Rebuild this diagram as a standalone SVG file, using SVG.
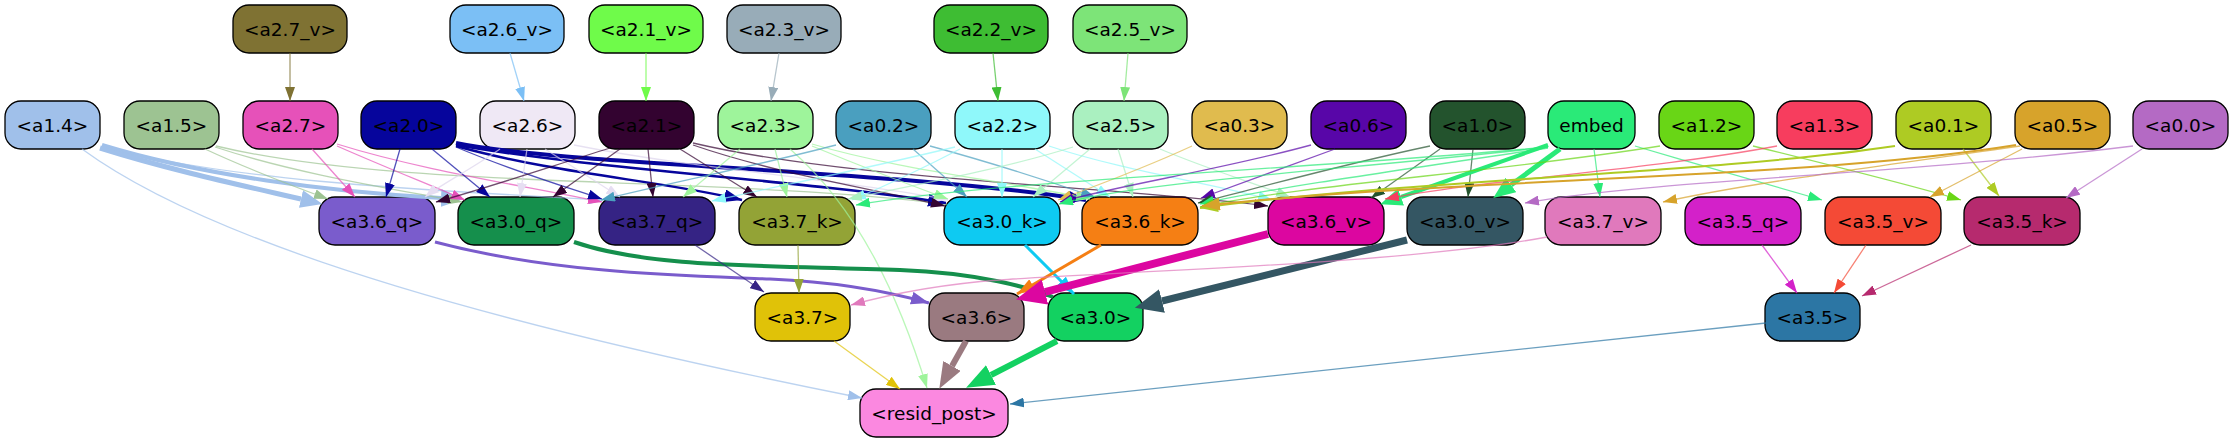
<svg xmlns="http://www.w3.org/2000/svg" width="2233" height="443" viewBox="0 0 2233 443">
<style>
.n rect{stroke:#000;stroke-width:1.3}
.n text{font-family:"DejaVu Sans",sans-serif;font-size:18.5px;text-anchor:middle;fill:#000}
#edges path{fill:none;stroke-width:1.3;stroke-opacity:.7}
#edges path.w{stroke-opacity:1}
.k27v{stroke:#7f7233}.k26v{stroke:#7bbff5}.k21v{stroke:#6ffb4a}.k23v{stroke:#98acb8}.k22v{stroke:#3ebd33}.k25v{stroke:#7de478}
.k14{stroke:#a0c0ea}.k15{stroke:#9dc392}.k27{stroke:#e651b9}.k20{stroke:#06059c}.k26{stroke:#ddd4ec}.k21{stroke:#330330}
.k23{stroke:#9ef49b}.k02{stroke:#4a9fbf}.k22{stroke:#8ff8fa}.k25{stroke:#aaf0c0}.k03{stroke:#e0bb4e}.k06{stroke:#5806a8}
.k10{stroke:#23532d}.kem{stroke:#2aea78}.k12{stroke:#69d616}.k13{stroke:#f73d5e}.k01{stroke:#aecb23}.k05{stroke:#d7a32b}.k00{stroke:#b46ac4}
.q36{stroke:#7a5ccc}.q30{stroke:#158f4c}.q37{stroke:#352384}.k37k{stroke:#93a336}.k30k{stroke:#0ecaf2}.k36k{stroke:#f57f14}
.v36{stroke:#dc06a0}.v30{stroke:#345663}.v37{stroke:#e079bc}.q35{stroke:#d321c9}.v35{stroke:#f44a36}.k35k{stroke:#b62a6e}
.r37{stroke:#e0c208}.r36{stroke:#9a7a80}.r30{stroke:#13d161}.r35{stroke:#2c76a4}
</style>
<defs>
<path id="ah" d="M0,0L14,5L0,10z"/>
<marker id="m27v" viewBox="0 0 14 10" refX="14" refY="5" markerWidth="14" markerHeight="10" markerUnits="userSpaceOnUse" orient="auto"><use href="#ah" fill="#7f7233"/></marker>
<marker id="m26v" viewBox="0 0 14 10" refX="14" refY="5" markerWidth="14" markerHeight="10" markerUnits="userSpaceOnUse" orient="auto"><use href="#ah" fill="#7bbff5"/></marker>
<marker id="m21v" viewBox="0 0 14 10" refX="14" refY="5" markerWidth="14" markerHeight="10" markerUnits="userSpaceOnUse" orient="auto"><use href="#ah" fill="#6ffb4a"/></marker>
<marker id="m23v" viewBox="0 0 14 10" refX="14" refY="5" markerWidth="14" markerHeight="10" markerUnits="userSpaceOnUse" orient="auto"><use href="#ah" fill="#98acb8"/></marker>
<marker id="m22v" viewBox="0 0 14 10" refX="14" refY="5" markerWidth="14" markerHeight="10" markerUnits="userSpaceOnUse" orient="auto"><use href="#ah" fill="#3ebd33"/></marker>
<marker id="m25v" viewBox="0 0 14 10" refX="14" refY="5" markerWidth="14" markerHeight="10" markerUnits="userSpaceOnUse" orient="auto"><use href="#ah" fill="#7de478"/></marker>
<marker id="m14" viewBox="0 0 14 10" refX="14" refY="5" markerWidth="14" markerHeight="10" markerUnits="userSpaceOnUse" orient="auto"><use href="#ah" fill="#a0c0ea"/></marker>
<marker id="B14" viewBox="0 0 22 18" refX="0" refY="9" markerWidth="22" markerHeight="18" markerUnits="userSpaceOnUse" orient="auto"><path d="M0,0L22,9L0,18z" fill="#a0c0ea"/></marker>
<marker id="m15" viewBox="0 0 14 10" refX="14" refY="5" markerWidth="14" markerHeight="10" markerUnits="userSpaceOnUse" orient="auto"><use href="#ah" fill="#9dc392"/></marker>
<marker id="m27" viewBox="0 0 14 10" refX="14" refY="5" markerWidth="14" markerHeight="10" markerUnits="userSpaceOnUse" orient="auto"><use href="#ah" fill="#e651b9"/></marker>
<marker id="m20" viewBox="0 0 14 10" refX="14" refY="5" markerWidth="14" markerHeight="10" markerUnits="userSpaceOnUse" orient="auto"><use href="#ah" fill="#06059c"/></marker>
<marker id="M20" viewBox="0 0 18 13" refX="18" refY="6.5" markerWidth="18" markerHeight="13" markerUnits="userSpaceOnUse" orient="auto"><path d="M0,0L18,6.5L0,13z" fill="#06059c"/></marker>
<marker id="m26" viewBox="0 0 14 10" refX="14" refY="5" markerWidth="14" markerHeight="10" markerUnits="userSpaceOnUse" orient="auto"><use href="#ah" fill="#e6def2"/></marker>
<marker id="m21" viewBox="0 0 14 10" refX="14" refY="5" markerWidth="14" markerHeight="10" markerUnits="userSpaceOnUse" orient="auto"><use href="#ah" fill="#330330"/></marker>
<marker id="m23" viewBox="0 0 14 10" refX="14" refY="5" markerWidth="14" markerHeight="10" markerUnits="userSpaceOnUse" orient="auto"><use href="#ah" fill="#9ef49b"/></marker>
<marker id="m02" viewBox="0 0 14 10" refX="14" refY="5" markerWidth="14" markerHeight="10" markerUnits="userSpaceOnUse" orient="auto"><use href="#ah" fill="#4a9fbf"/></marker>
<marker id="m22" viewBox="0 0 14 10" refX="14" refY="5" markerWidth="14" markerHeight="10" markerUnits="userSpaceOnUse" orient="auto"><use href="#ah" fill="#8ff8fa"/></marker>
<marker id="m25" viewBox="0 0 14 10" refX="14" refY="5" markerWidth="14" markerHeight="10" markerUnits="userSpaceOnUse" orient="auto"><use href="#ah" fill="#aaf0c0"/></marker>
<marker id="m03" viewBox="0 0 14 10" refX="14" refY="5" markerWidth="14" markerHeight="10" markerUnits="userSpaceOnUse" orient="auto"><use href="#ah" fill="#e0bb4e"/></marker>
<marker id="m06" viewBox="0 0 14 10" refX="14" refY="5" markerWidth="14" markerHeight="10" markerUnits="userSpaceOnUse" orient="auto"><use href="#ah" fill="#5806a8"/></marker>
<marker id="m10" viewBox="0 0 14 10" refX="14" refY="5" markerWidth="14" markerHeight="10" markerUnits="userSpaceOnUse" orient="auto"><use href="#ah" fill="#23532d"/></marker>
<marker id="mem" viewBox="0 0 14 10" refX="14" refY="5" markerWidth="14" markerHeight="10" markerUnits="userSpaceOnUse" orient="auto"><use href="#ah" fill="#2aea78"/></marker>
<marker id="Bem" viewBox="0 0 22 18" refX="0" refY="9" markerWidth="22" markerHeight="18" markerUnits="userSpaceOnUse" orient="auto"><path d="M0,0L22,9L0,18z" fill="#2aea78"/></marker>
<marker id="m12" viewBox="0 0 14 10" refX="14" refY="5" markerWidth="14" markerHeight="10" markerUnits="userSpaceOnUse" orient="auto"><use href="#ah" fill="#69d616"/></marker>
<marker id="m13" viewBox="0 0 14 10" refX="14" refY="5" markerWidth="14" markerHeight="10" markerUnits="userSpaceOnUse" orient="auto"><use href="#ah" fill="#f73d5e"/></marker>
<marker id="m01" viewBox="0 0 14 10" refX="14" refY="5" markerWidth="14" markerHeight="10" markerUnits="userSpaceOnUse" orient="auto"><use href="#ah" fill="#aecb23"/></marker>
<marker id="M01" viewBox="0 0 18 13" refX="18" refY="6.5" markerWidth="18" markerHeight="13" markerUnits="userSpaceOnUse" orient="auto"><path d="M0,0L18,6.5L0,13z" fill="#aecb23"/></marker>
<marker id="m05" viewBox="0 0 14 10" refX="14" refY="5" markerWidth="14" markerHeight="10" markerUnits="userSpaceOnUse" orient="auto"><use href="#ah" fill="#d7a32b"/></marker>
<marker id="M05" viewBox="0 0 18 13" refX="18" refY="6.5" markerWidth="18" markerHeight="13" markerUnits="userSpaceOnUse" orient="auto"><path d="M0,0L18,6.5L0,13z" fill="#d7a32b"/></marker>
<marker id="m00" viewBox="0 0 14 10" refX="14" refY="5" markerWidth="14" markerHeight="10" markerUnits="userSpaceOnUse" orient="auto"><use href="#ah" fill="#b46ac4"/></marker>
<marker id="M36q" viewBox="0 0 18 13" refX="18" refY="6.5" markerWidth="18" markerHeight="13" markerUnits="userSpaceOnUse" orient="auto"><path d="M0,0L18,6.5L0,13z" fill="#7a5ccc"/></marker>
<marker id="M30q" viewBox="0 0 18 13" refX="18" refY="6.5" markerWidth="18" markerHeight="13" markerUnits="userSpaceOnUse" orient="auto"><path d="M0,0L18,6.5L0,13z" fill="#158f4c"/></marker>
<marker id="m37q" viewBox="0 0 14 10" refX="14" refY="5" markerWidth="14" markerHeight="10" markerUnits="userSpaceOnUse" orient="auto"><use href="#ah" fill="#352384"/></marker>
<marker id="m37k" viewBox="0 0 14 10" refX="14" refY="5" markerWidth="14" markerHeight="10" markerUnits="userSpaceOnUse" orient="auto"><use href="#ah" fill="#93a336"/></marker>
<marker id="M30k" viewBox="0 0 18 13" refX="18" refY="6.5" markerWidth="18" markerHeight="13" markerUnits="userSpaceOnUse" orient="auto"><path d="M0,0L18,6.5L0,13z" fill="#0ecaf2"/></marker>
<marker id="M36k" viewBox="0 0 18 13" refX="18" refY="6.5" markerWidth="18" markerHeight="13" markerUnits="userSpaceOnUse" orient="auto"><path d="M0,0L18,6.5L0,13z" fill="#f57f14"/></marker>
<marker id="B36v" viewBox="0 0 30 26" refX="0" refY="13" markerWidth="30" markerHeight="26" markerUnits="userSpaceOnUse" orient="auto"><path d="M0,0L30,13L0,26z" fill="#dc06a0"/></marker>
<marker id="B30v" viewBox="0 0 28 24" refX="0" refY="12" markerWidth="28" markerHeight="24" markerUnits="userSpaceOnUse" orient="auto"><path d="M0,0L28,12L0,24z" fill="#345663"/></marker>
<marker id="m37v" viewBox="0 0 14 10" refX="14" refY="5" markerWidth="14" markerHeight="10" markerUnits="userSpaceOnUse" orient="auto"><use href="#ah" fill="#e079bc"/></marker>
<marker id="m35q" viewBox="0 0 14 10" refX="14" refY="5" markerWidth="14" markerHeight="10" markerUnits="userSpaceOnUse" orient="auto"><use href="#ah" fill="#d321c9"/></marker>
<marker id="m35v" viewBox="0 0 14 10" refX="14" refY="5" markerWidth="14" markerHeight="10" markerUnits="userSpaceOnUse" orient="auto"><use href="#ah" fill="#f44a36"/></marker>
<marker id="m35k" viewBox="0 0 14 10" refX="14" refY="5" markerWidth="14" markerHeight="10" markerUnits="userSpaceOnUse" orient="auto"><use href="#ah" fill="#b62a6e"/></marker>
<marker id="m37" viewBox="0 0 14 10" refX="14" refY="5" markerWidth="14" markerHeight="10" markerUnits="userSpaceOnUse" orient="auto"><use href="#ah" fill="#e0c208"/></marker>
<marker id="B36" viewBox="0 0 26 20" refX="0" refY="10" markerWidth="26" markerHeight="20" markerUnits="userSpaceOnUse" orient="auto"><path d="M0,0L26,10L0,20z" fill="#9a7a80"/></marker>
<marker id="B30" viewBox="0 0 28 22" refX="0" refY="11" markerWidth="28" markerHeight="22" markerUnits="userSpaceOnUse" orient="auto"><path d="M0,0L28,11L0,22z" fill="#13d161"/></marker>
<marker id="m35" viewBox="0 0 14 10" refX="14" refY="5" markerWidth="14" markerHeight="10" markerUnits="userSpaceOnUse" orient="auto"><use href="#ah" fill="#2c76a4"/></marker>
</defs>
<rect width="2233" height="443" fill="#fff"/>
<g id="nodes">
<g id="n-a2_7_v" class="n"><rect x="233" y="5" width="114" height="48" rx="16" fill="#7f7233"/><text x="290" y="35.5">&lt;a2.7_v&gt;</text></g>
<g id="n-a2_6_v" class="n"><rect x="450" y="5" width="114" height="48" rx="16" fill="#7bbff5"/><text x="507" y="35.5">&lt;a2.6_v&gt;</text></g>
<g id="n-a2_1_v" class="n"><rect x="589" y="5" width="114" height="48" rx="16" fill="#6ffb4a"/><text x="646" y="35.5">&lt;a2.1_v&gt;</text></g>
<g id="n-a2_3_v" class="n"><rect x="727" y="5" width="114" height="48" rx="16" fill="#98acb8"/><text x="784" y="35.5">&lt;a2.3_v&gt;</text></g>
<g id="n-a2_2_v" class="n"><rect x="934" y="5" width="114" height="48" rx="16" fill="#3ebd33"/><text x="991" y="35.5">&lt;a2.2_v&gt;</text></g>
<g id="n-a2_5_v" class="n"><rect x="1073" y="5" width="114" height="48" rx="16" fill="#7de478"/><text x="1130" y="35.5">&lt;a2.5_v&gt;</text></g>
<g id="n-a1_4" class="n"><rect x="5" y="101" width="95" height="48" rx="16" fill="#a0c0ea"/><text x="52.5" y="131.5">&lt;a1.4&gt;</text></g>
<g id="n-a1_5" class="n"><rect x="124" y="101" width="95" height="48" rx="16" fill="#9dc392"/><text x="171.5" y="131.5">&lt;a1.5&gt;</text></g>
<g id="n-a2_7" class="n"><rect x="243" y="101" width="95" height="48" rx="16" fill="#e651b9"/><text x="290.5" y="131.5">&lt;a2.7&gt;</text></g>
<g id="n-a2_0" class="n"><rect x="361" y="101" width="95" height="48" rx="16" fill="#06059c"/><text x="408.5" y="131.5">&lt;a2.0&gt;</text></g>
<g id="n-a2_6" class="n"><rect x="480" y="101" width="95" height="48" rx="16" fill="#efe8f5"/><text x="527.5" y="131.5">&lt;a2.6&gt;</text></g>
<g id="n-a2_1" class="n"><rect x="599" y="101" width="95" height="48" rx="16" fill="#330330"/><text x="646.5" y="131.5">&lt;a2.1&gt;</text></g>
<g id="n-a2_3" class="n"><rect x="718" y="101" width="95" height="48" rx="16" fill="#9ef49b"/><text x="765.5" y="131.5">&lt;a2.3&gt;</text></g>
<g id="n-a0_2" class="n"><rect x="836" y="101" width="95" height="48" rx="16" fill="#4a9fbf"/><text x="883.5" y="131.5">&lt;a0.2&gt;</text></g>
<g id="n-a2_2" class="n"><rect x="955" y="101" width="95" height="48" rx="16" fill="#8ff8fa"/><text x="1002.5" y="131.5">&lt;a2.2&gt;</text></g>
<g id="n-a2_5" class="n"><rect x="1073" y="101" width="95" height="48" rx="16" fill="#aaf0c0"/><text x="1120.5" y="131.5">&lt;a2.5&gt;</text></g>
<g id="n-a0_3" class="n"><rect x="1192" y="101" width="95" height="48" rx="16" fill="#e0bb4e"/><text x="1239.5" y="131.5">&lt;a0.3&gt;</text></g>
<g id="n-a0_6" class="n"><rect x="1311" y="101" width="95" height="48" rx="16" fill="#5806a8"/><text x="1358.5" y="131.5">&lt;a0.6&gt;</text></g>
<g id="n-a1_0" class="n"><rect x="1430" y="101" width="95" height="48" rx="16" fill="#23532d"/><text x="1477.5" y="131.5">&lt;a1.0&gt;</text></g>
<g id="n-embed" class="n"><rect x="1548" y="101" width="87" height="48" rx="16" fill="#2aea78"/><text x="1591.5" y="131.5">embed</text></g>
<g id="n-a1_2" class="n"><rect x="1659" y="101" width="95" height="48" rx="16" fill="#69d616"/><text x="1706.5" y="131.5">&lt;a1.2&gt;</text></g>
<g id="n-a1_3" class="n"><rect x="1777" y="101" width="95" height="48" rx="16" fill="#f73d5e"/><text x="1824.5" y="131.5">&lt;a1.3&gt;</text></g>
<g id="n-a0_1" class="n"><rect x="1896" y="101" width="95" height="48" rx="16" fill="#aecb23"/><text x="1943.5" y="131.5">&lt;a0.1&gt;</text></g>
<g id="n-a0_5" class="n"><rect x="2015" y="101" width="95" height="48" rx="16" fill="#d7a32b"/><text x="2062.5" y="131.5">&lt;a0.5&gt;</text></g>
<g id="n-a0_0" class="n"><rect x="2133" y="101" width="95" height="48" rx="16" fill="#b46ac4"/><text x="2180.5" y="131.5">&lt;a0.0&gt;</text></g>
<g id="n-a3_6_q" class="n"><rect x="319" y="197" width="116" height="48" rx="16" fill="#7a5ccc"/><text x="377" y="227.5">&lt;a3.6_q&gt;</text></g>
<g id="n-a3_0_q" class="n"><rect x="458" y="197" width="116" height="48" rx="16" fill="#158f4c"/><text x="516" y="227.5">&lt;a3.0_q&gt;</text></g>
<g id="n-a3_7_q" class="n"><rect x="599" y="197" width="116" height="48" rx="16" fill="#352384"/><text x="657" y="227.5">&lt;a3.7_q&gt;</text></g>
<g id="n-a3_7_k" class="n"><rect x="739" y="197" width="116" height="48" rx="16" fill="#93a336"/><text x="797" y="227.5">&lt;a3.7_k&gt;</text></g>
<g id="n-a3_0_k" class="n"><rect x="944" y="197" width="116" height="48" rx="16" fill="#0ecaf2"/><text x="1002" y="227.5">&lt;a3.0_k&gt;</text></g>
<g id="n-a3_6_k" class="n"><rect x="1082" y="197" width="116" height="48" rx="16" fill="#f57f14"/><text x="1140" y="227.5">&lt;a3.6_k&gt;</text></g>
<g id="n-a3_6_v" class="n"><rect x="1268" y="197" width="116" height="48" rx="16" fill="#dc06a0"/><text x="1326" y="227.5">&lt;a3.6_v&gt;</text></g>
<g id="n-a3_0_v" class="n"><rect x="1407" y="197" width="116" height="48" rx="16" fill="#345663"/><text x="1465" y="227.5">&lt;a3.0_v&gt;</text></g>
<g id="n-a3_7_v" class="n"><rect x="1545" y="197" width="116" height="48" rx="16" fill="#e079bc"/><text x="1603" y="227.5">&lt;a3.7_v&gt;</text></g>
<g id="n-a3_5_q" class="n"><rect x="1685" y="197" width="116" height="48" rx="16" fill="#d321c9"/><text x="1743" y="227.5">&lt;a3.5_q&gt;</text></g>
<g id="n-a3_5_v" class="n"><rect x="1825" y="197" width="116" height="48" rx="16" fill="#f44a36"/><text x="1883" y="227.5">&lt;a3.5_v&gt;</text></g>
<g id="n-a3_5_k" class="n"><rect x="1964" y="197" width="116" height="48" rx="16" fill="#b62a6e"/><text x="2022" y="227.5">&lt;a3.5_k&gt;</text></g>
<g id="n-a3_7" class="n"><rect x="755" y="293" width="95" height="48" rx="16" fill="#e0c208"/><text x="802.5" y="323.5">&lt;a3.7&gt;</text></g>
<g id="n-a3_6" class="n"><rect x="929" y="293" width="95" height="48" rx="16" fill="#9a7a80"/><text x="976.5" y="323.5">&lt;a3.6&gt;</text></g>
<g id="n-a3_0" class="n"><rect x="1048" y="293" width="95" height="48" rx="16" fill="#13d161"/><text x="1095.5" y="323.5">&lt;a3.0&gt;</text></g>
<g id="n-a3_5" class="n"><rect x="1765" y="293" width="95" height="48" rx="16" fill="#2c76a4"/><text x="1812.5" y="323.5">&lt;a3.5&gt;</text></g>
<g id="n-resid_post" class="n"><rect x="860" y="389" width="148" height="48" rx="16" fill="#fb88e0"/><text x="934" y="419.5">&lt;resid_post&gt;</text></g>
</g>
<g id="edges">
<path class="k27v" d="M290,53L290,101" marker-end="url(#m27v)"/>
<path class="k26v" d="M510,53L524,101" marker-end="url(#m26v)"/>
<path class="k21v" d="M646,53L646,101" marker-end="url(#m21v)"/>
<path class="k23v" d="M779,53L771,101" marker-end="url(#m23v)"/>
<path class="k22v" d="M993,53L998,101" marker-end="url(#m22v)"/>
<path class="k25v" d="M1128,53L1124,101" marker-end="url(#m25v)"/>
<path class="k14 w" stroke-width="5" d="M100,148C170,170 240,185 301,199" marker-end="url(#B14)" style="stroke-width:5"/>
<path class="k14 w" d="M102,145C200,175 330,192 441,198" marker-end="url(#B14)" style="stroke-width:4"/>
<path class="k14" d="M102,146C220,180 420,190 603,200" marker-end="url(#m14)"/>
<path class="k14" d="M82,149C220,250 520,330 862,398" marker-end="url(#m14)"/>
<path class="k15" d="M205,149C250,170 290,185 328,199" marker-end="url(#m15)"/>
<path class="k15" d="M215,147C300,175 400,190 462,202" marker-end="url(#m15)"/>
<path class="k15" d="M216,146C400,190 700,175 947,204" marker-end="url(#m15)"/>
<path class="k27" d="M312,149L355,197" marker-end="url(#m27)"/>
<path class="k27" d="M337,146C380,165 430,185 465,200" marker-end="url(#m27)"/>
<path class="k27" d="M337,144C420,170 520,185 602,202" marker-end="url(#m27)"/>
<path class="k20" d="M400,149L386,197" marker-end="url(#m20)"/>
<path class="k20" d="M432,149L490,197" marker-end="url(#m20)"/>
<path class="k20" d="M456,147C510,170 560,185 602,199" marker-end="url(#m20)"/>
<path class="k20 w" d="M456,146C560,175 660,180 742,200" marker-end="url(#M20)" style="stroke-width:2.5"/>
<path class="k20 w" d="M456,145C600,170 800,180 946,203" marker-end="url(#M20)" style="stroke-width:2.5"/>
<path class="k20 w" d="M456,143C560,165 900,170 1086,200" marker-end="url(#M20)" style="stroke-width:4"/>
<path class="k26" d="M500,149C470,170 440,185 425,197" marker-end="url(#m26)"/>
<path class="k26" d="M527,149L520,197" marker-end="url(#m26)"/>
<path class="k26" d="M545,149L620,197" marker-end="url(#m26)"/>
<path class="k26" d="M574,145C700,170 850,180 948,200" marker-end="url(#m26)"/>
<path class="k21" d="M610,148C540,170 480,190 436,202" marker-end="url(#m21)"/>
<path class="k21" d="M620,149L553,197" marker-end="url(#m21)"/>
<path class="k21" d="M648,149L653,197" marker-end="url(#m21)"/>
<path class="k21" d="M680,149L757,197" marker-end="url(#m21)"/>
<path class="k21" d="M693,145C780,175 880,190 945,206" marker-end="url(#m21)"/>
<path class="k21" d="M693,143C850,180 1100,185 1268,206" marker-end="url(#m21)"/>
<path class="k23" d="M740,149L683,197" marker-end="url(#m23)"/>
<path class="k23" d="M775,149L787,197" marker-end="url(#m23)"/>
<path class="k23" d="M812,146C870,170 910,185 948,199" marker-end="url(#m23)"/>
<path class="k23" d="M790,149C860,210 900,300 927,388" marker-end="url(#m23)"/>
<path class="k23" d="M812,144C900,170 1000,180 1090,199" marker-end="url(#m23)"/>
<path class="k02" d="M836,145C760,165 660,185 601,200" marker-end="url(#m02)"/>
<path class="k02" d="M913,149L967,197" marker-end="url(#m02)"/>
<path class="k02" d="M930,146C1000,165 1060,185 1095,197" marker-end="url(#m02)"/>
<path class="k22" d="M955,147C860,170 760,190 712,201" marker-end="url(#m22)"/>
<path class="k22" d="M960,149C920,170 880,188 852,200" marker-end="url(#m22)"/>
<path class="k22" d="M1002,149L1002,197" marker-end="url(#m22)"/>
<path class="k22" d="M1035,149L1110,197" marker-end="url(#m22)"/>
<path class="k22" d="M1049,146C1120,170 1220,185 1272,200" marker-end="url(#m22)"/>
<path class="k25" d="M1073,147C1000,170 900,188 848,199" marker-end="url(#m25)"/>
<path class="k25" d="M1090,149L1033,197" marker-end="url(#m25)"/>
<path class="k25" d="M1118,149L1133,197" marker-end="url(#m25)"/>
<path class="k25" d="M1160,149C1210,170 1260,185 1290,197" marker-end="url(#m25)"/>
<path class="k03" d="M1192,146C1140,170 1090,188 1058,200" marker-end="url(#m03)"/>
<path class="k06" d="M1311,145C1220,170 1120,185 1060,202" marker-end="url(#m06)"/>
<path class="k06" d="M1335,149L1201,198" marker-end="url(#m06)"/>
<path class="k10" d="M1430,146C1340,165 1250,190 1198,203" marker-end="url(#m10)"/>
<path class="k10" d="M1440,149L1371,198" marker-end="url(#m10)"/>
<path class="k10" d="M1473,149L1468,197" marker-end="url(#m10)"/>
<path class="kem w" d="M1548,145L1401,197" marker-end="url(#Bem)" style="stroke-width:4"/>
<path class="kem w" d="M1560,149L1511,185" marker-end="url(#Bem)" style="stroke-width:5"/>
<path class="kem" d="M1594,149L1600,197" marker-end="url(#mem)"/>
<path class="kem" d="M1635,146C1700,165 1770,185 1822,200" marker-end="url(#mem)"/>
<path class="kem" d="M1548,147C1300,170 1000,180 856,205" marker-end="url(#mem)"/>
<path class="kem" d="M1548,148C1400,170 1260,190 1200,204" marker-end="url(#mem)"/>
<path class="kem" d="M1548,147C1350,170 1150,180 1059,204" marker-end="url(#mem)"/>
<path class="k12" d="M1753,146C1830,165 1910,185 1961,200" marker-end="url(#m12)"/>
<path class="k12" d="M1660,146C1500,172 1300,185 1200,207" marker-end="url(#m12)"/>
<path class="k13" d="M1777,146C1650,170 1480,180 1385,199" marker-end="url(#m13)"/>
<path class="k01 w" d="M1895,146C1700,175 1400,180 1200,208" marker-end="url(#M01)" style="stroke-width:2"/>
<path class="k01" d="M1963,149L1999,196" marker-end="url(#m01)"/>
<path class="k05" d="M2020,146C1850,170 1740,185 1663,202" marker-end="url(#m05)"/>
<path class="k05" d="M2022,149L1930,197" marker-end="url(#m05)"/>
<path class="k05 w" d="M2016,145C1800,180 1450,178 1202,206" marker-end="url(#M05)" style="stroke-width:2"/>
<path class="k00" d="M2133,146C1900,175 1650,180 1525,203" marker-end="url(#m00)"/>
<path class="k00" d="M2142,149L2066,198" marker-end="url(#m00)"/>
<path class="q36 w" d="M435,242C560,275 700,276 770,279C840,282 890,292 929,303" marker-end="url(#M36q)" style="stroke-width:3"/>
<path class="q30 w" d="M574,242C650,268 760,265 900,270C980,273 1030,288 1053,297" marker-end="url(#M30q)" style="stroke-width:4"/>
<path class="q37" d="M695,245L764,292" marker-end="url(#m37q)"/>
<path class="k37k" d="M798,245L799,293" marker-end="url(#m37k)"/>
<path class="k30k w" d="M1025,245L1074,294" marker-end="url(#M30k)" style="stroke-width:3"/>
<path class="k36k w" d="M1101,245L1017,294" marker-end="url(#M36k)" style="stroke-width:3"/>
<path class="v36 w" d="M1268,234L1045,292" marker-end="url(#B36v)" style="stroke-width:8"/>
<path class="v30 w" d="M1407,240L1162,301" marker-end="url(#B30v)" style="stroke-width:7"/>
<path class="v37" d="M1547,237C1400,265 1100,272 1000,280C930,285 880,297 851,305" marker-end="url(#m37v)"/>
<path class="q35" d="M1762,245L1797,293" marker-end="url(#m35q)"/>
<path class="v35" d="M1866,245L1834,293" marker-end="url(#m35v)"/>
<path class="k35k" d="M1971,245L1862,296" marker-end="url(#m35k)"/>
<path class="r37" d="M834,341L900,389" marker-end="url(#m37)"/>
<path class="r36 w" d="M966,341L952,366" marker-end="url(#B36)" style="stroke-width:6"/>
<path class="r30 w" d="M1057,341L991,375" marker-end="url(#B30)" style="stroke-width:6"/>
<path class="r35" d="M1766,323L1010,404" marker-end="url(#m35)"/>
</g>
</svg>
